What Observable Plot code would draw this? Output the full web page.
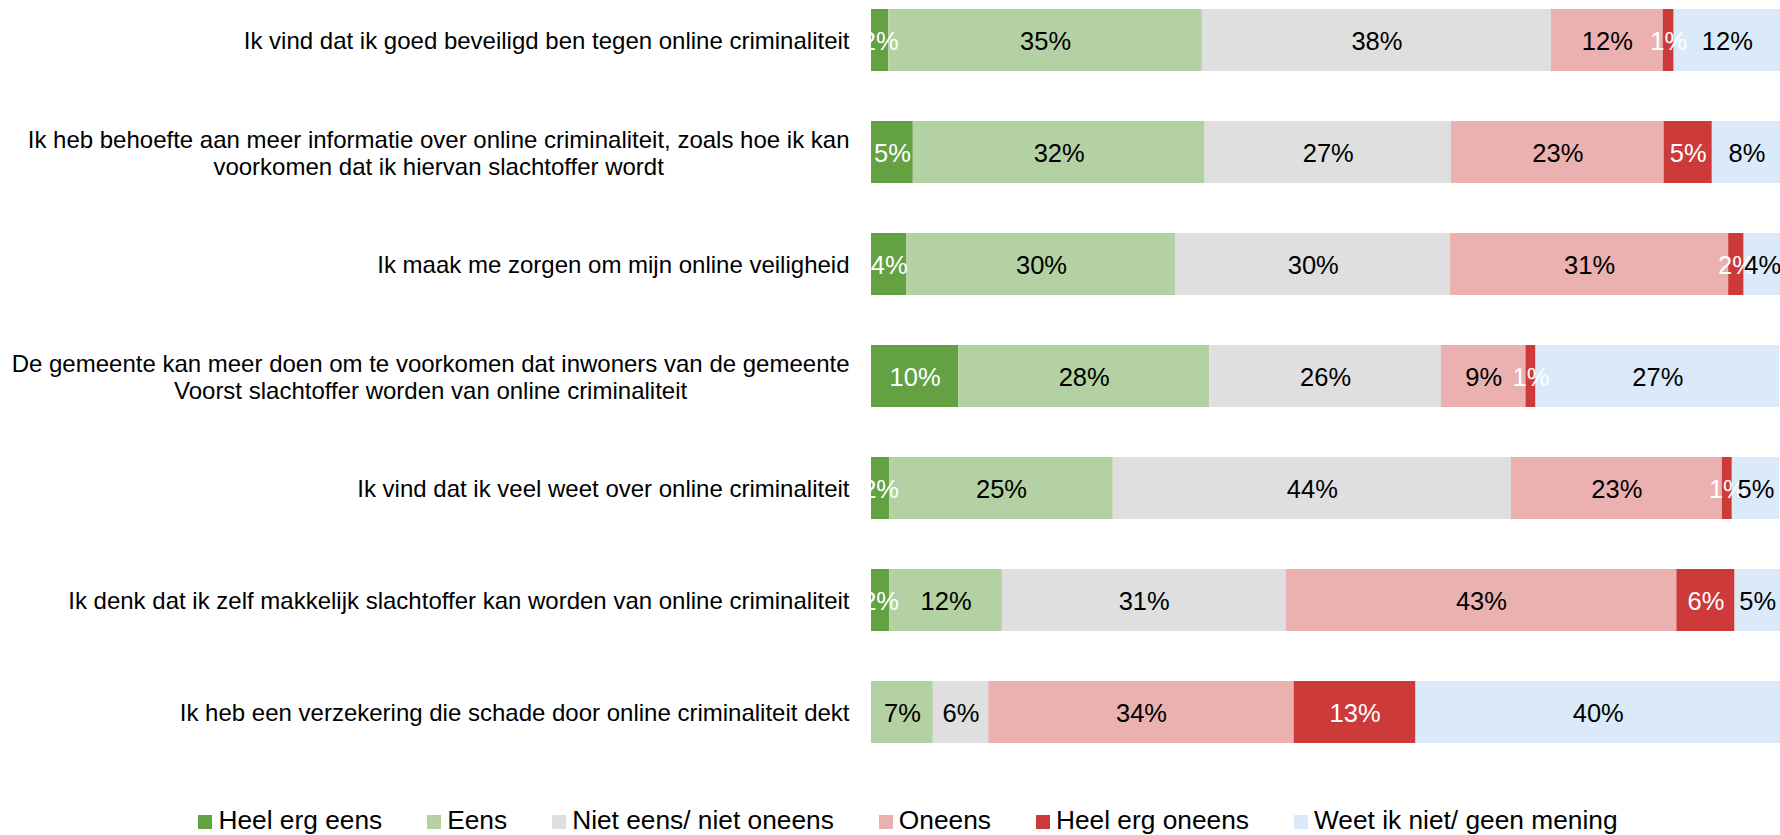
<!DOCTYPE html>
<html><head><meta charset="utf-8">
<script src="https://cdn.jsdelivr.net/npm/d3@7"></script>
<script src="https://cdn.jsdelivr.net/npm/@observablehq/plot@0.6"></script>
<style>
body{margin:0;background:#fff;font-family:"Liberation Sans",Arial,sans-serif}
#legend{text-align:center;font-size:26.3px;line-height:30px;margin-top:15px;padding-left:36px;color:#000;white-space:nowrap}
.item{display:inline-block;margin:0 22.5px}
.sw{display:inline-block;width:14px;height:14px;margin-right:6px;vertical-align:baseline}
</style></head>
<body><div id="chart"></div><div id="legend"></div>
<script>
const rows = [
  "Ik vind dat ik goed beveiligd ben tegen online criminaliteit",
  "Ik heb behoefte aan meer informatie over online criminaliteit, zoals hoe ik kan\nvoorkomen dat ik hiervan slachtoffer wordt",
  "Ik maak me zorgen om mijn online veiligheid",
  "De gemeente kan meer doen om te voorkomen dat inwoners van de gemeente\nVoorst slachtoffer worden van online criminaliteit",
  "Ik vind dat ik veel weet over online criminaliteit",
  "Ik denk dat ik zelf makkelijk slachtoffer kan worden van online criminaliteit",
  "Ik heb een verzekering die schade door online criminaliteit dekt"
];
const cats = ["Heel erg eens", "Eens", "Niet eens/ niet oneens", "Oneens", "Heel erg oneens", "Weet ik niet/ geen mening"];
const colors = ["#63a142", "#b3d1a2", "#dedfde", "#eab1b0", "#cc3a3a", "#daeaf9"];
const darkCats = ["Heel erg eens", "Heel erg oneens"];

const heelErgEens   = [1.9, 4.6, 3.9, 9.6, 2.0, 2.0, 0];
const eens          = [34.5, 32.1, 29.6, 27.6, 24.6, 12.4, 6.8];
const nietEensNiet  = [38.4, 27.1, 30.2, 25.5, 43.8, 31.2, 6.1];
const oneens        = [12.3, 23.4, 30.6, 9.3, 23.2, 43.0, 33.6];
const heelErgOneens = [1.2, 5.3, 1.7, 1.1, 1.1, 6.4, 13.4];
const weetNiet      = [11.7, 7.6, 4.1, 26.8, 5.2, 5.0, 40.1];
const series = [heelErgEens, eens, nietEensNiet, oneens, heelErgOneens, weetNiet];

const data = [];
rows.forEach((r, i) => cats.forEach((c, j) => {
  const v = series[j][i];
  if (v > 0) data.push({row: r, cat: c, value: v});
}));

const font = '"Liberation Sans", Arial, sans-serif';
const lab = d => Math.round(d.value) + "%";

const chart = Plot.plot({
  width: 1780, height: 790,
  marginLeft: 871, marginRight: 0, marginTop: 8, marginBottom: 45,
  x: {domain: [0, 100], axis: null},
  y: {domain: rows, axis: null, paddingInner: 0.444, paddingOuter: 0},
  color: {domain: cats, range: colors},
  style: {fontFamily: font, background: "white", color: "black"},
  marks: [
    Plot.barX(data, Plot.stackX({x: "value", y: "row", fill: "cat", order: cats})),
    Plot.text(data, Plot.stackX({x: "value", y: "row", z: "cat", order: cats,
      text: d => darkCats.includes(d.cat) ? lab(d) : null,
      fill: "white", fontSize: 25.5, dy: 1})),
    Plot.text(data, Plot.stackX({x: "value", y: "row", z: "cat", order: cats,
      text: d => darkCats.includes(d.cat) ? null : lab(d),
      fill: "black", fontSize: 25.5, dy: 1})),
    Plot.text(rows, {y: d => d, text: d => d, frameAnchor: "left", textAnchor: "end",
      dx: -22, dy: 0, fontSize: 24, lineHeight: 1.15, fill: "black"})
  ]
});
document.getElementById("chart").appendChild(chart);

// center multi-line row labels within their right-aligned block
chart.querySelectorAll("text").forEach(t => {
  const spans = t.querySelectorAll("tspan");
  if (spans.length > 1) {
    const ws = Array.from(spans, s => s.getComputedTextLength());
    const W = Math.max(...ws);
    spans.forEach((s, i) => s.setAttribute("x", -(W - ws[i]) / 2));
  }
});

const legend = document.getElementById("legend");
cats.forEach((c, i) => {
  const it = document.createElement("span");
  it.className = "item";
  const sw = document.createElement("span");
  sw.className = "sw";
  sw.style.background = colors[i];
  it.appendChild(sw);
  it.appendChild(document.createTextNode(c));
  legend.appendChild(it);
});
</script>
</body></html>
